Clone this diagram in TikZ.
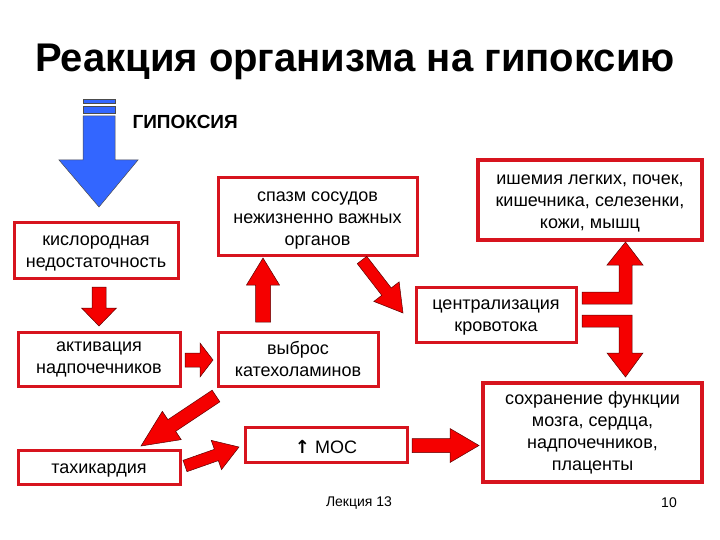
\documentclass[tikz,border=0pt]{standalone}
\usepackage{fontspec}
\setmainfont{Liberation Sans}
\newfontfamily\dejavu{DejaVu Sans}
\usetikzlibrary{calc}
\definecolor{boxred}{RGB}{215,20,30}
\definecolor{arrred}{RGB}{245,0,0}
\definecolor{arrblue}{RGB}{51,102,255}
\definecolor{arredge}{RGB}{90,0,0}
\tikzset{
  box/.style={draw=boxred, line width=3pt, fill=white, inner sep=0pt},
  bigbox/.style={box, line width=4pt},
  boxtext/.style={inner sep=0pt, align=center, font=\fontsize{18}{22}\selectfont},
  blockarr/.style={fill=arrred, draw=arredge, line width=0.5pt, line join=miter},
}
% style, name, centre, width, height, text shift, text
\newcommand\tbox[7]{%
  \node[#1, minimum width=#4, minimum height=#5] (#2) at (#3) {};
  \node[boxtext] (#2-t) at ([yshift=-#6]#2.center) {#7};
}
% tail, tip, half shaft, half head, head length
\newcommand\barrow[5]{%
  \coordinate (bh) at ($(#2)!#5!(#1)$);
  \path[blockarr]
    ($(#1)!#3!90:(#2)$) -- ($(bh)!#3!-90:(#1)$) -- ($(bh)!#4!-90:(#1)$) -- (#2)
    -- ($(bh)!#4!90:(#1)$) -- ($(bh)!#3!90:(#1)$) -- ($(#1)!#3!-90:(#2)$) -- cycle;
}
\begin{document}
\begin{tikzpicture}[x=1pt,y=-1pt]
\useasboundingbox (0,0) rectangle (720,540);
\fill[white] (0,0) rectangle (720,540);

% title
\node[font=\fontsize{40}{44}\selectfont\bfseries, anchor=base] (title) at (355,72) {Реакция организма на гипоксию};

% blue arrow
\fill[arrblue, draw=black!70, line width=0.4pt] (83,99) rectangle (115,103);
\fill[arrblue, draw=black!70, line width=0.4pt] (83,106) rectangle (115,113);
\path[fill=arrblue, draw=black!70, line width=0.5pt] (83,116) -- (115,116) -- (115,160) -- (138,160) -- (99,207) -- (59,160) -- (83,160) -- cycle;
\node[font=\fontsize{19}{22}\selectfont\bfseries, anchor=base west] (hyp) at (129,129) {ГИПОКСИЯ};

% boxes
\tbox{box}{kis}{96,250.5}{164pt}{55pt}{3pt}{кислородная\\недостаточность}
\tbox{box}{spa}{317.5,216.5}{199pt}{77pt}{4pt}{спазм сосудов\\нежизненно важных\\органов}
\tbox{bigbox}{ish}{590,200}{224pt}{80pt}{3pt}{ишемия легких, почек,\\кишечника, селезенки,\\кожи, мышц}
\tbox{box}{cen}{496,314.5}{160pt}{55pt}{3pt}{централизация\\кровотока}
\tbox{box}{vyb}{298,359}{160pt}{54pt}{0pt}{выброс\\катехоламинов}
\tbox{box}{akt}{99,359}{162pt}{54pt}{0.5pt}{активация\\надпочечников}
\tbox{box}{tah}{99,467}{162pt}{34pt}{4pt}{тахикардия}
\tbox{box}{mos}{326,444.5}{162pt}{35pt}{2pt}{{\dejavu\bfseries ↑} МОС}
\tbox{bigbox}{soh}{592.5,432.5}{219pt}{99pt}{0pt}{сохранение функции\\мозга, сердца,\\надпочечников,\\плаценты}

% footer
\node[font=\fontsize{14}{16}\selectfont] (lec) at (359,503) {Лекция 13};
\node[font=\fontsize{14}{16}\selectfont] (num) at (669,503) {10};

% connector end points
\coordinate (a1) at (99,287);  \coordinate (b1) at (99,326);
\coordinate (a2) at (185,360); \coordinate (b2) at (213,360);
\coordinate (a3) at (263,322); \coordinate (b3) at (263,258);
\coordinate (a4) at (362,260); \coordinate (b4) at (403,313);
\coordinate (a5) at (216,396); \coordinate (b5) at (141,446);
\coordinate (a6) at (185,466); \coordinate (b6) at (239,447);
\coordinate (a7) at (412,445.5); \coordinate (b7) at (479,445.5);

\barrow{a1}{b1}{7pt}{17.5pt}{18pt}
\barrow{a2}{b2}{7pt}{17pt}{13pt}
\barrow{a3}{b3}{7.5pt}{16.5pt}{27pt}
\barrow{a4}{b4}{6pt}{16pt}{27pt}
\barrow{a5}{b5}{7pt}{17pt}{37pt}
\barrow{a6}{b6}{6pt}{15.5pt}{24pt}
\barrow{a7}{b7}{7pt}{17pt}{29pt}

% bent arrows from centralisation
\path[blockarr] (582,292) -- (619,292) -- (619,265) -- (607,265) -- (625.5,242) -- (643,265) -- (632,265) -- (632,304) -- (582,304) -- cycle;
\path[blockarr] (582,315) -- (632,315) -- (632,353) -- (643,353) -- (625.5,377) -- (607,353) -- (619,353) -- (619,327) -- (582,327) -- cycle;
\end{tikzpicture}
\end{document}
